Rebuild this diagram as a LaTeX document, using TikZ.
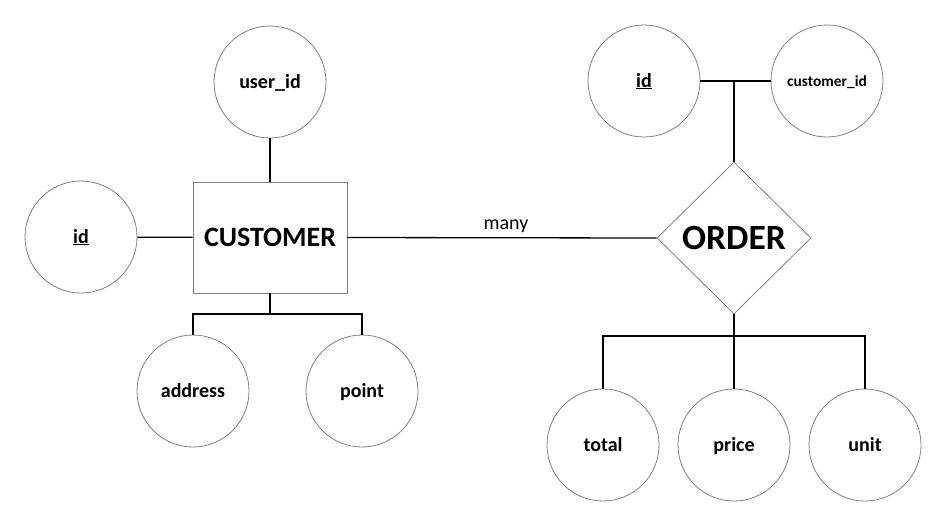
\documentclass[tikz,border=0pt]{standalone}
\usepackage{fontspec}
\setmainfont{Carlito}
\usetikzlibrary{shapes.geometric}
\begin{document}
\begin{tikzpicture}[x=1pt,y=-1pt,
  attr/.style={circle,draw=black!50,line width=0.8pt,minimum size=112pt,inner sep=0pt,text height=15pt,text depth=3pt,font=\bfseries\fontsize{20}{24}\selectfont},
  entbox/.style={rectangle,draw=black!50,line width=0.8pt,minimum width=154pt,minimum height=111pt,inner sep=0pt,font=\bfseries\fontsize{28}{32}\selectfont},
  relbox/.style={diamond,draw=black!50,line width=0.8pt,minimum width=154pt,minimum height=152pt,inner sep=0pt,font=\bfseries\fontsize{35.5}{40}\selectfont},
  conn/.style={draw=black,line width=1.3pt}]
\useasboundingbox (0,0) rectangle (941,512);
\fill[white] (0,0) rectangle (941,512);
% customer side
\node[entbox] (cust) at (270,237.5) {CUSTOMER};
\node[attr] (uid) at (270,82) {user\_id};
\node[attr] (cid) at (81,237) {\underline{id}};
\node[attr] (addr) at (193,391) {address};
\node[attr] (point) at (362,391) {point};
% order side
\node[relbox] (order) at (734,238) {ORDER};
\node[attr] (oid) at (644,81) {\underline{id}};
\node[attr,font=\bfseries\fontsize{15.4}{18}\selectfont,text height=12pt,text depth=2pt] (custid) at (827,81) {customer\_id};
\node[attr] (total) at (603,445) {total};
\node[attr] (price) at (734,445) {price};
\node[attr] (unit) at (865,445) {unit};
% connectors
\coordinate (cb) at (270,314);
\coordinate (ot) at (734,81);
\coordinate (ob) at (734,336);
\draw[conn] (uid) -- (cust);
\draw[conn] (cid) -- (cust);
\draw[conn] (cust.south) -- (cb);
\draw[conn] (addr.north) |- (cb) -| (point.north);
\draw[conn] (cust.east) -- node[midway,above=1pt,xshift=4pt,font=\fontsize{20}{24}\selectfont] {many} (order.west);
\draw[conn] (oid) -- (custid);
\draw[conn] (ot) -- (order.north);
\draw[conn] (order.south) -- (price.north);
\draw[conn] (total.north) |- (ob) -| (unit.north);
\end{tikzpicture}
\end{document}
